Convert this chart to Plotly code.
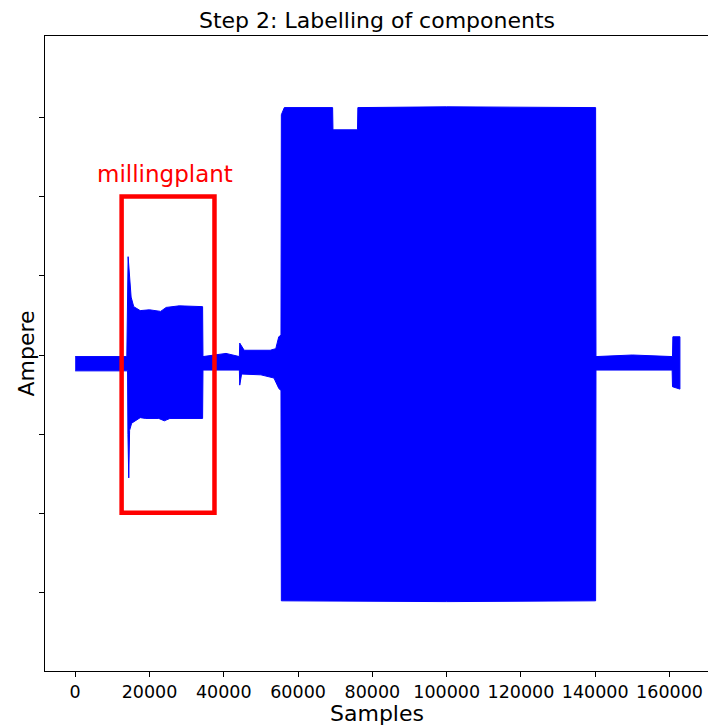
import plotly.graph_objects as go

# ---- data (samples, amperes in axis units) ----
upper_x = [0, 13900, 14250, 15060, 15760, 17500, 20000, 23000, 24500, 28000, 34300,
           34400, 40600, 44200, 44300, 45500, 52500, 54000, 54800, 55400,
           55500, 56300, 69300, 69400, 76000, 76100, 100000, 140100,
           140200, 150000, 160800, 160900, 162800]
upper_y = [-0.02, -0.02, 1.24, 0.73, 0.61, 0.56, 0.57, 0.55, 0.60, 0.62, 0.61,
           -0.02, 0.02, -0.02, 0.15, 0.06, 0.06, 0.08, 0.23, 0.25,
           3.03, 3.12, 3.12, 2.84, 2.84, 3.12, 3.13, 3.12,
           -0.02, 0.00, -0.02, 0.23, 0.23]

lower_x = [0, 14100, 14200, 14420, 14650, 15200, 17500, 19000, 22500, 24000, 25500,
           34300, 34400, 44200, 44300, 44800, 50000, 53500, 54800, 55400,
           55500, 100000, 140100, 140200, 160700, 160800, 162800]
lower_y = [-0.20, -0.20, -1.00, -1.55, -0.95, -0.86, -0.79, -0.80, -0.80, -0.83, -0.80,
           -0.80, -0.19, -0.19, -0.38, -0.24, -0.25, -0.29, -0.42, -0.45,
           -3.10, -3.11, -3.10, -0.19, -0.19, -0.40, -0.43]

x_ticks = [0, 20000, 40000, 60000, 80000, 100000, 120000, 140000, 160000]
y_ticks = [-3, -2, -1, 0, 1, 2, 3]

box_x = [12500, 37500]
box_y = [-1.99, 2.0]
box_label = "millingplant"
label_pos = [24200, 2.28]

title_text = "Step 2: Labelling of components"
x_title = "Samples"
y_title = "Ampere"

FONT = "DejaVu Sans"

poly_x = upper_x + lower_x[::-1]
poly_y = upper_y + lower_y[::-1]

fig = go.Figure()
fig.add_trace(go.Scatter(
    x=poly_x, y=poly_y, mode="lines", fill="toself",
    fillcolor="#0000ff", line=dict(color="#0000ff", width=1),
    hoverinfo="skip", showlegend=False,
))

fig.add_shape(type="rect", xref="x", yref="y",
              x0=box_x[0], x1=box_x[1], y0=box_y[0], y1=box_y[1],
              line=dict(color="#ff0000", width=4.5))

fig.add_annotation(x=label_pos[0], y=label_pos[1], xref="x", yref="y",
                   text=box_label, showarrow=False,
                   font=dict(family=FONT, size=23, color="#ff0000"))

# axis titles as annotations for exact placement
fig.add_annotation(x=0.5, y=0, xref="paper", yref="paper", text=x_title,
                   showarrow=False, yanchor="middle", yshift=-42,
                   font=dict(family=FONT, size=22, color="black"))
fig.add_annotation(x=0, y=0.5, xref="paper", yref="paper", text=y_title,
                   showarrow=False, xanchor="center", xshift=-19, textangle=-90,
                   font=dict(family=FONT, size=22, color="black"))

axis_common = dict(showline=True, linecolor="black", linewidth=1.3,
                   ticks="outside", ticklen=5, tickwidth=1.3, tickcolor="black",
                   showgrid=False, zeroline=False, automargin=False)

fig.update_layout(
    width=712, height=728,
    margin=dict(l=45, r=3, t=36, b=57),
    paper_bgcolor="white", plot_bgcolor="white",
    font=dict(family=FONT, color="black"),
    title=dict(text=title_text, x=0.5, xref="paper", y=1, yref="paper",
               yanchor="bottom", pad=dict(b=8), automargin=False,
               font=dict(family=FONT, size=22, color="black")),
    xaxis=dict(range=[-8125, 170625], tickvals=x_ticks,
               ticktext=[str(v) for v in x_ticks], mirror=True,
               tickfont=dict(family=FONT, size=17.5, color="black"),
               **axis_common),
    yaxis=dict(range=[-3.985, 4.023], tickvals=y_ticks, showticklabels=False,
               **axis_common),
)

fig.write_html("out.html",
               config={"displayModeBar": False},
               post_script="document.body.style.margin='0px';"
                           "document.body.style.overflow='hidden';")
